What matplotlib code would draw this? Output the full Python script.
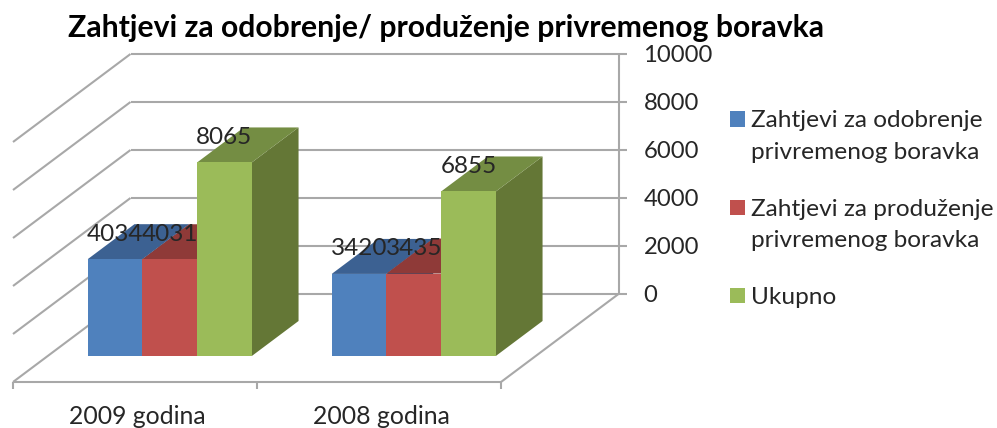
import matplotlib
matplotlib.use("Agg")
import matplotlib.pyplot as plt
from matplotlib.patches import Polygon, Rectangle
from matplotlib.legend_handler import HandlerPatch

title = "Zahtjevi za odobrenje/ produženje privremenog boravka"
categories = ["2009 godina", "2008 godina"]
odobrenje = [4034, 3420]
produzenje = [4031, 3435]
ukupno = [8065, 6855]
series_names = ["Zahtjevi za odobrenje\nprivremenog boravka",
                "Zahtjevi za produženje\nprivremenog boravka",
                "Ukupno"]
y_ticks = [0, 2000, 4000, 6000, 8000, 10000]

FRONT = ["#4f81bd", "#c0504d", "#9bbb59"]
TOP = ["#3c6192", "#8f3a38", "#748d43"]
SIDE = ["#2f4d74", "#722e2c", "#647736"]
GRID = "#a8a8a8"
TXT = "#262626"
FONT = "Lato"

W, H = 997, 428
fig = plt.figure(figsize=(W / 100, H / 100), dpi=100, facecolor="white")
ax = fig.add_axes([0, 0, 1, 1])
ax.axis("off")

# scales: x in category widths, y in data values
PX_X = 244.0   # pixels per category
PX_Y = 0.024   # pixels per value unit
X0, Y0 = 13, 382
ax.set_xlim(-X0 / PX_X, (W - X0) / PX_X)
ax.set_ylim((Y0 - H) / PX_Y, Y0 / PX_Y)

DX = 117.5 / PX_X   # depth shift in x (category units)
DY = 88 / PX_Y      # depth shift in y (value units)


def proj(u, v, d=0.0):
    return u + d * DX, v + d * DY


n = len(categories)
line = dict(color=GRID, lw=1.5, solid_capstyle="butt", zorder=1)

# walls and grid
for t in y_ticks:
    xs, ys = zip(proj(0, t, 1), proj(n, t, 1))
    ax.plot(xs, ys, **line)
    xs, ys = zip(proj(0, t, 0), proj(0, t, 1))
    ax.plot(xs, ys, **line)
    ax.annotate(str(t), proj(n, t, 1), xytext=(25, 0), textcoords="offset pixels",
                fontsize=17.2, family=FONT, color=TXT, ha="left", va="center_baseline")
    xs, ys = zip(proj(n, t, 1), (proj(n, t, 1)[0] + 8 / PX_X, proj(n, t, 1)[1]))
    ax.plot(xs, ys, **line)
xs, ys = zip(proj(n, 0, 1), proj(n, max(y_ticks), 1))
ax.plot(xs, ys, **line)
# floor
xs, ys = zip(proj(0, 0, 0), proj(n, 0, 0))
ax.plot(xs, ys, **line)
xs, ys = zip(proj(n, 0, 0), proj(n, 0, 1))
ax.plot(xs, ys, **line)
for i in range(n + 1):
    ax.plot([i, i], [0, -7 / PX_Y], **line)
for i, c in enumerate(categories):
    ax.annotate(c, (i + 0.5, 0), xytext=(2, -32), textcoords="offset pixels",
                fontsize=17.8, family=FONT, color=TXT, ha="center", va="center_baseline")

# bars
D_FRONT, D_BACK = 26 / 88, (26 + 35) / 88
BAR_W = 54.7 / PX_X
MARGIN = 40 / PX_X
values = [odobrenje, produzenje, ukupno]
for i in range(n):
    for s, vals in enumerate(values):
        v = vals[i]
        u0 = i + MARGIN + s * BAR_W
        u1 = u0 + BAR_W
        ax.add_patch(Polygon([proj(u1, 0, D_FRONT), proj(u1, 0, D_BACK),
                              proj(u1, v, D_BACK), proj(u1, v, D_FRONT)],
                             fc=SIDE[s], ec="none", zorder=2 + s))
        ax.add_patch(Polygon([proj(u0, v, D_FRONT), proj(u1, v, D_FRONT),
                              proj(u1, v, D_BACK), proj(u0, v, D_BACK)],
                             fc=TOP[s], ec="none", zorder=2 + s))
        ax.add_patch(Polygon([proj(u0, 0, D_FRONT), proj(u1, 0, D_FRONT),
                              proj(u1, v, D_FRONT), proj(u0, v, D_FRONT)],
                             fc=FRONT[s], ec="none", zorder=2 + s))
for i in range(n):
    for s, vals in enumerate(values):
        u = i + MARGIN + (s + 0.5) * BAR_W
        ax.annotate(str(vals[i]), proj(u, vals[i], D_FRONT), xytext=(0, 27),
                    textcoords="offset pixels", fontsize=17.5, family=FONT, color=TXT,
                    ha="center", va="center_baseline", zorder=10)

fig.text(68 / W, 1 - 28 / H, title, fontsize=21.7, family=FONT, fontweight="bold",
         color="black", ha="left", va="center")


# legend: marker sits on the first line of its label
def first_line_patch(shift):
    def make(legend, orig_handle, xdescent, ydescent, width, height, fontsize):
        return Rectangle((-xdescent, -ydescent + shift), width, height,
                         fc=orig_handle.get_facecolor(), ec="none")
    return HandlerPatch(patch_func=make)


handles = [Rectangle((0, 0), 1, 1, fc=c, ec="none") for c in FRONT]
handler_map = {h: first_line_patch(12.5 if "\n" in name else 0)
               for h, name in zip(handles, series_names)}
leg = ax.legend(handles, series_names, handler_map=handler_map,
                prop={"family": FONT, "size": 17.6}, labelcolor=TXT, frameon=False,
                loc="upper left", bbox_to_anchor=(730 / W, 1 - 110 / H),
                borderaxespad=0, borderpad=0, handlelength=0.6, handleheight=0.6,
                handletextpad=0.25, labelspacing=1.47)
for t in leg.get_texts():
    t.set_linespacing(1.63)

fig.savefig("out.png", dpi=100, facecolor="white")
